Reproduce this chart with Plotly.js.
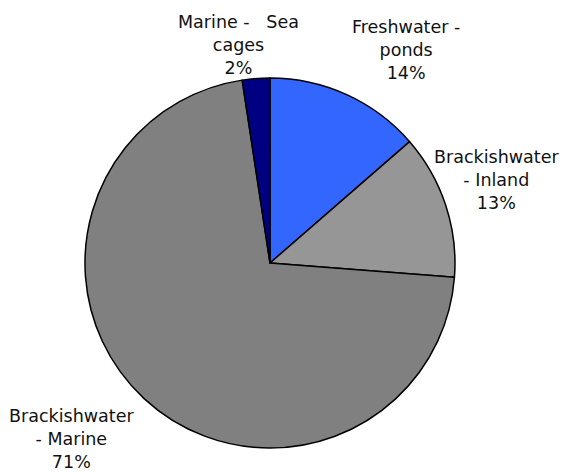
<!DOCTYPE html>
<html>
<head>
<meta charset="utf-8">
<script src="https://cdn.plot.ly/plotly-3.0.1.min.js"></script>
<style>html,body{margin:0;padding:0;background:#fff;}#chart{width:562px;height:472px;}</style>
</head>
<body>
<div id="chart"></div>
<script>
// Data
const categories = ["Freshwater - ponds", "Brackishwater - Inland", "Brackishwater - Marine", "Marine - Sea cages"];
const labelLines = [["Freshwater -", "ponds"], ["Brackishwater", "- Inland"], ["Brackishwater", "- Marine"], ["Marine -\u00a0\u00a0\u00a0Sea", "cages"]];
const values = [13.6, 12.6, 71.3, 2.4];
const colors = ["#3366FF", "#969696", "#808080", "#000080"];

// Label positions (paper coords, centre of label block)
const labelPos = [[0.7224, 0.894], [0.8826, 0.6186], [0.1281, 0.0690], [0.4235, 0.9047]];

const total = values.reduce((a, b) => a + b, 0);
const annotations = categories.map((c, i) => ({
  text: labelLines[i].join("<br>") + "<br>" + Math.round(values[i] / total * 100) + "%",
  x: labelPos[i][0], y: labelPos[i][1], xref: "paper", yref: "paper",
  xanchor: "center", yanchor: "middle", showarrow: false, align: "center",
  font: {family: "DejaVu Sans, Verdana, sans-serif", size: 17.5, color: "#111"}
}));

Plotly.newPlot("chart", [{
  type: "pie",
  labels: categories,
  values: values,
  sort: false,
  direction: "clockwise",
  rotation: 0,
  textinfo: "none",
  hoverinfo: "label+percent",
  marker: {colors: colors, line: {color: "#000", width: 1.5}},
  domain: {x: [0.1512, 0.8096], y: [0.0508, 0.8347]}
}], {
  width: 562, height: 472,
  margin: {l: 0, r: 0, t: 0, b: 0},
  showlegend: false,
  paper_bgcolor: "#fff",
  annotations: annotations
}, {displayModeBar: false, staticPlot: true});
</script>
</body>
</html>
